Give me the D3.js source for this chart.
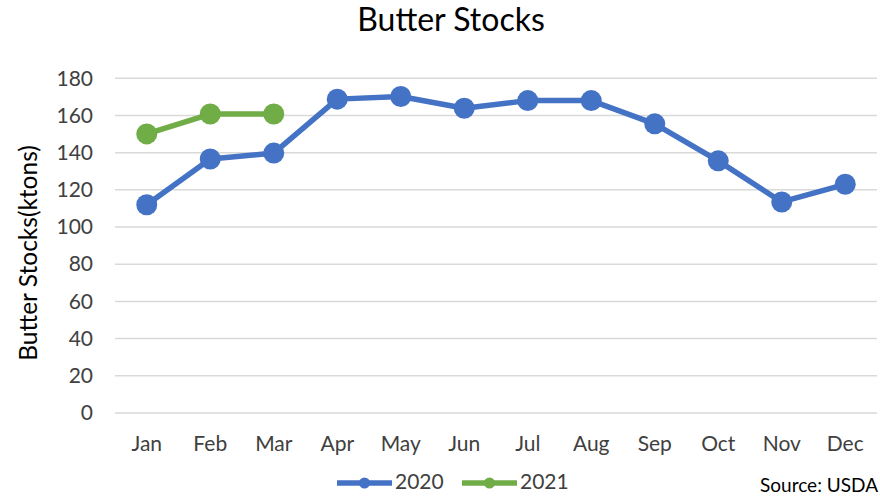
<!DOCTYPE html>
<html lang="en">
<head>
<meta charset="UTF-8">
<title>Butter Stocks</title>
<script src="https://d3js.org/d3.v7.min.js"></script>
<style>
  body, html { margin: 0; padding: 0; background: #fff; overflow: hidden; }
  svg { display: block; }
  text { font-family: Lato, "Open Sans", sans-serif; fill: #404040; }
  .grid line { stroke: #d9d9d9; stroke-width: 1.5; }
</style>
</head>
<body>
<svg></svg>
<script>
  const months = ["Jan","Feb","Mar","Apr","May","Jun","Jul","Aug","Sep","Oct","Nov","Dec"];
  const stocks2020 = [112, 136.6, 139.8, 168.8, 170.2, 163.9, 168, 168, 155.5, 135.6, 113.5, 123];
  const stocks2021 = [150.1, 160.8, 160.8];
  const yTicks = [0, 20, 40, 60, 80, 100, 120, 140, 160, 180];

  const series = [
    {name: "2020", color: "#4472C4", values: stocks2020},
    {name: "2021", color: "#70AD47", values: stocks2021}
  ];

  const width = 880, height = 496;
  const svg = d3.select("svg").attr("width", width).attr("height", height);

  const x = d3.scaleBand().domain(months).range([115, 877]);
  const y = d3.scaleLinear().domain([0, 180]).range([413, 78.3]);

  // gridlines
  svg.append("g").attr("class", "grid")
    .selectAll("line").data(yTicks).enter().append("line")
    .attr("x1", 115).attr("x2", 877)
    .attr("y1", d => y(d)).attr("y2", d => y(d));

  // y axis labels
  const yAxis = svg.append("g")
    .attr("transform", "translate(93,0)")
    .call(d3.axisLeft(y).tickValues(yTicks).tickSize(0).tickPadding(0));
  yAxis.select(".domain").remove();
  yAxis.selectAll("text").style("font-size", "21px").attr("fill", "#404040")
    .style("font-family", "Lato, 'Open Sans', sans-serif");

  // x axis labels
  const xAxis = svg.append("g")
    .attr("transform", "translate(0,436)")
    .call(d3.axisBottom(x).tickSize(0).tickPadding(0));
  xAxis.select(".domain").remove();
  xAxis.selectAll("text").style("font-size", "21px").attr("fill", "#404040")
    .style("font-family", "Lato, 'Open Sans', sans-serif");

  const line = d3.line()
    .x((d, i) => x(months[i]) + x.bandwidth() / 2)
    .y(d => y(d));

  series.forEach(s => {
    svg.append("path")
      .datum(s.values)
      .attr("fill", "none")
      .attr("stroke", s.color)
      .attr("stroke-width", 5.5)
      .attr("stroke-linejoin", "round")
      .attr("d", line);

    svg.append("g").selectAll("circle")
      .data(s.values).enter().append("circle")
      .attr("cx", (d, i) => x(months[i]) + x.bandwidth() / 2)
      .attr("cy", d => y(d))
      .attr("r", 10.5)
      .attr("fill", s.color);
  });

  // title
  svg.append("text")
    .attr("x", 451).attr("y", 31)
    .attr("text-anchor", "middle")
    .style("font-size", "32px")
    .style("fill", "#000")
    .text("Butter Stocks");

  // y title
  svg.append("text")
    .attr("transform", "translate(37,253) rotate(-90)")
    .attr("text-anchor", "middle")
    .style("font-size", "24.5px")
    .style("fill", "#000")
    .text("Butter Stocks(ktons)");

  // legend
  const legend = svg.append("g");
  series.forEach((s, i) => {
    const lx = 337 + i * 125;
    legend.append("line")
      .attr("x1", lx).attr("x2", lx + 55)
      .attr("y1", 483).attr("y2", 483)
      .attr("stroke", s.color).attr("stroke-width", 5.5);
    legend.append("circle")
      .attr("cx", lx + 27.5).attr("cy", 483).attr("r", 5.5)
      .attr("fill", s.color);
    legend.append("text")
      .attr("x", lx + 58).attr("y", 489)
      .style("font-size", "21px")
      .text(s.name);
  });

  // source
  svg.append("text")
    .attr("x", 878).attr("y", 492)
    .attr("text-anchor", "end")
    .style("font-size", "19px")
    .style("fill", "#000")
    .text("Source: USDA");
</script>
</body>
</html>
